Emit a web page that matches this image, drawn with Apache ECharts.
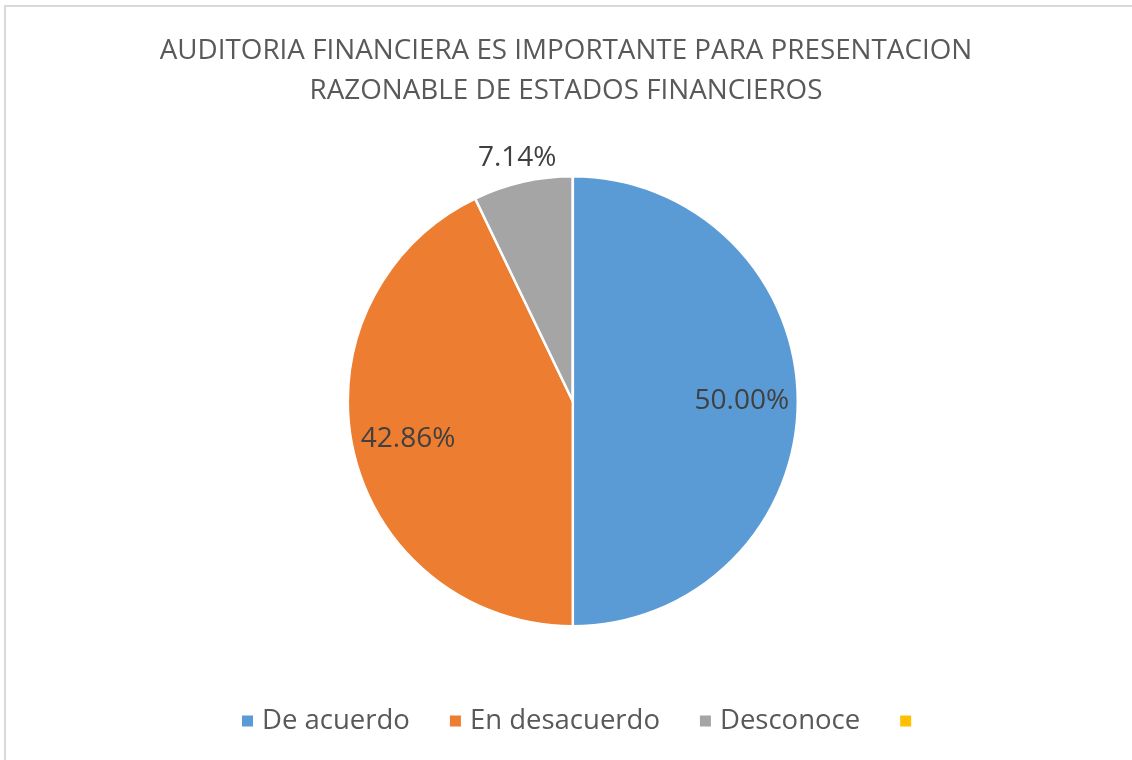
<!DOCTYPE html>
<html>
<head>
<meta charset="utf-8">
<script src="https://cdn.jsdelivr.net/npm/echarts@6/dist/echarts.min.js"></script>
<style>
  html, body { margin: 0; padding: 0; background: #fff; }
  #chart { width: 1132px; height: 760px; }
</style>
</head>
<body>
<div id="chart"></div>
<script>
// datos
const categories = ['De acuerdo', 'En desacuerdo', 'Desconoce', ' '];
const counts = [7, 6, 1, 0];
const colors = ['#5B9BD5', '#ED7D31', '#A5A5A5', '#FFC000'];
// etiquetas: dentro (1) o fuera (2) de la torta
const labelRing = [1, 1, 2, 0];

const total = counts.reduce((a, b) => a + b, 0);
const pct = (v) => (v / total * 100).toFixed(2) + '%';

const myChart = echarts.init(document.getElementById('chart'));

const pieData = categories.map((name, i) => ({
  name: name,
  value: counts[i],
  itemStyle: { color: colors[i] }
}));

// serie invisible solo para ubicar etiquetas
const labelSeries = (ring, radius) => ({
  type: 'pie',
  silent: true,
  center: ['50.6%', '52.8%'],
  radius: radius,
  startAngle: 90,
  legendHoverLink: false,
  itemStyle: { color: 'transparent', borderWidth: 0 },
  labelLine: { show: false },
  emphasis: { disabled: true },
  tooltip: { show: false },
  data: categories.map((name, i) => ({
    name: name + '_lbl',
    value: counts[i],
    label: {
      show: labelRing[i] === ring,
      position: 'inside',
      formatter: pct(counts[i]),
      color: '#404040',
      fontSize: 28,
      fontFamily: 'Open Sans'
    }
  }))
});

const option = {
  animation: false,
  backgroundColor: '#fff',
  title: {
    text: 'AUDITORIA FINANCIERA ES IMPORTANTE PARA PRESENTACION\nRAZONABLE DE ESTADOS FINANCIEROS',
    left: 'center',
    top: 26,
    textStyle: {
      fontFamily: 'Open Sans',
      fontWeight: 'normal',
      fontSize: 27.8,
      lineHeight: 40,
      color: '#595959'
    }
  },
  legend: {
    bottom: 20,
    left: 235,
    icon: 'rect',
    itemWidth: 13,
    itemHeight: 13,
    itemGap: 38,
    textStyle: {
      fontFamily: 'Open Sans',
      fontSize: 27.5,
      color: '#595959',
      padding: [0, 0, 0, 3]
    },
    data: categories
  },
  graphic: [{
    type: 'rect',
    silent: true,
    shape: { x: 5, y: 6, width: 1300, height: 900 },
    style: { fill: 'none', stroke: '#D9D9D9', lineWidth: 2 }
  }],
  series: [
    {
      type: 'pie',
      center: ['50.6%', '52.8%'],
      radius: [0, 225],
      startAngle: 90,
      stillShowZeroSum: false,
      itemStyle: { borderColor: '#fff', borderWidth: 2.5 },
      label: { show: false },
      labelLine: { show: false },
      emphasis: { scale: false },
      data: pieData
    },
    labelSeries(1, [107, 225]),
    labelSeries(2, [232, 262])
  ]
};
myChart.setOption(option);
window.addEventListener('resize', myChart.resize);
</script>
</body>
</html>
